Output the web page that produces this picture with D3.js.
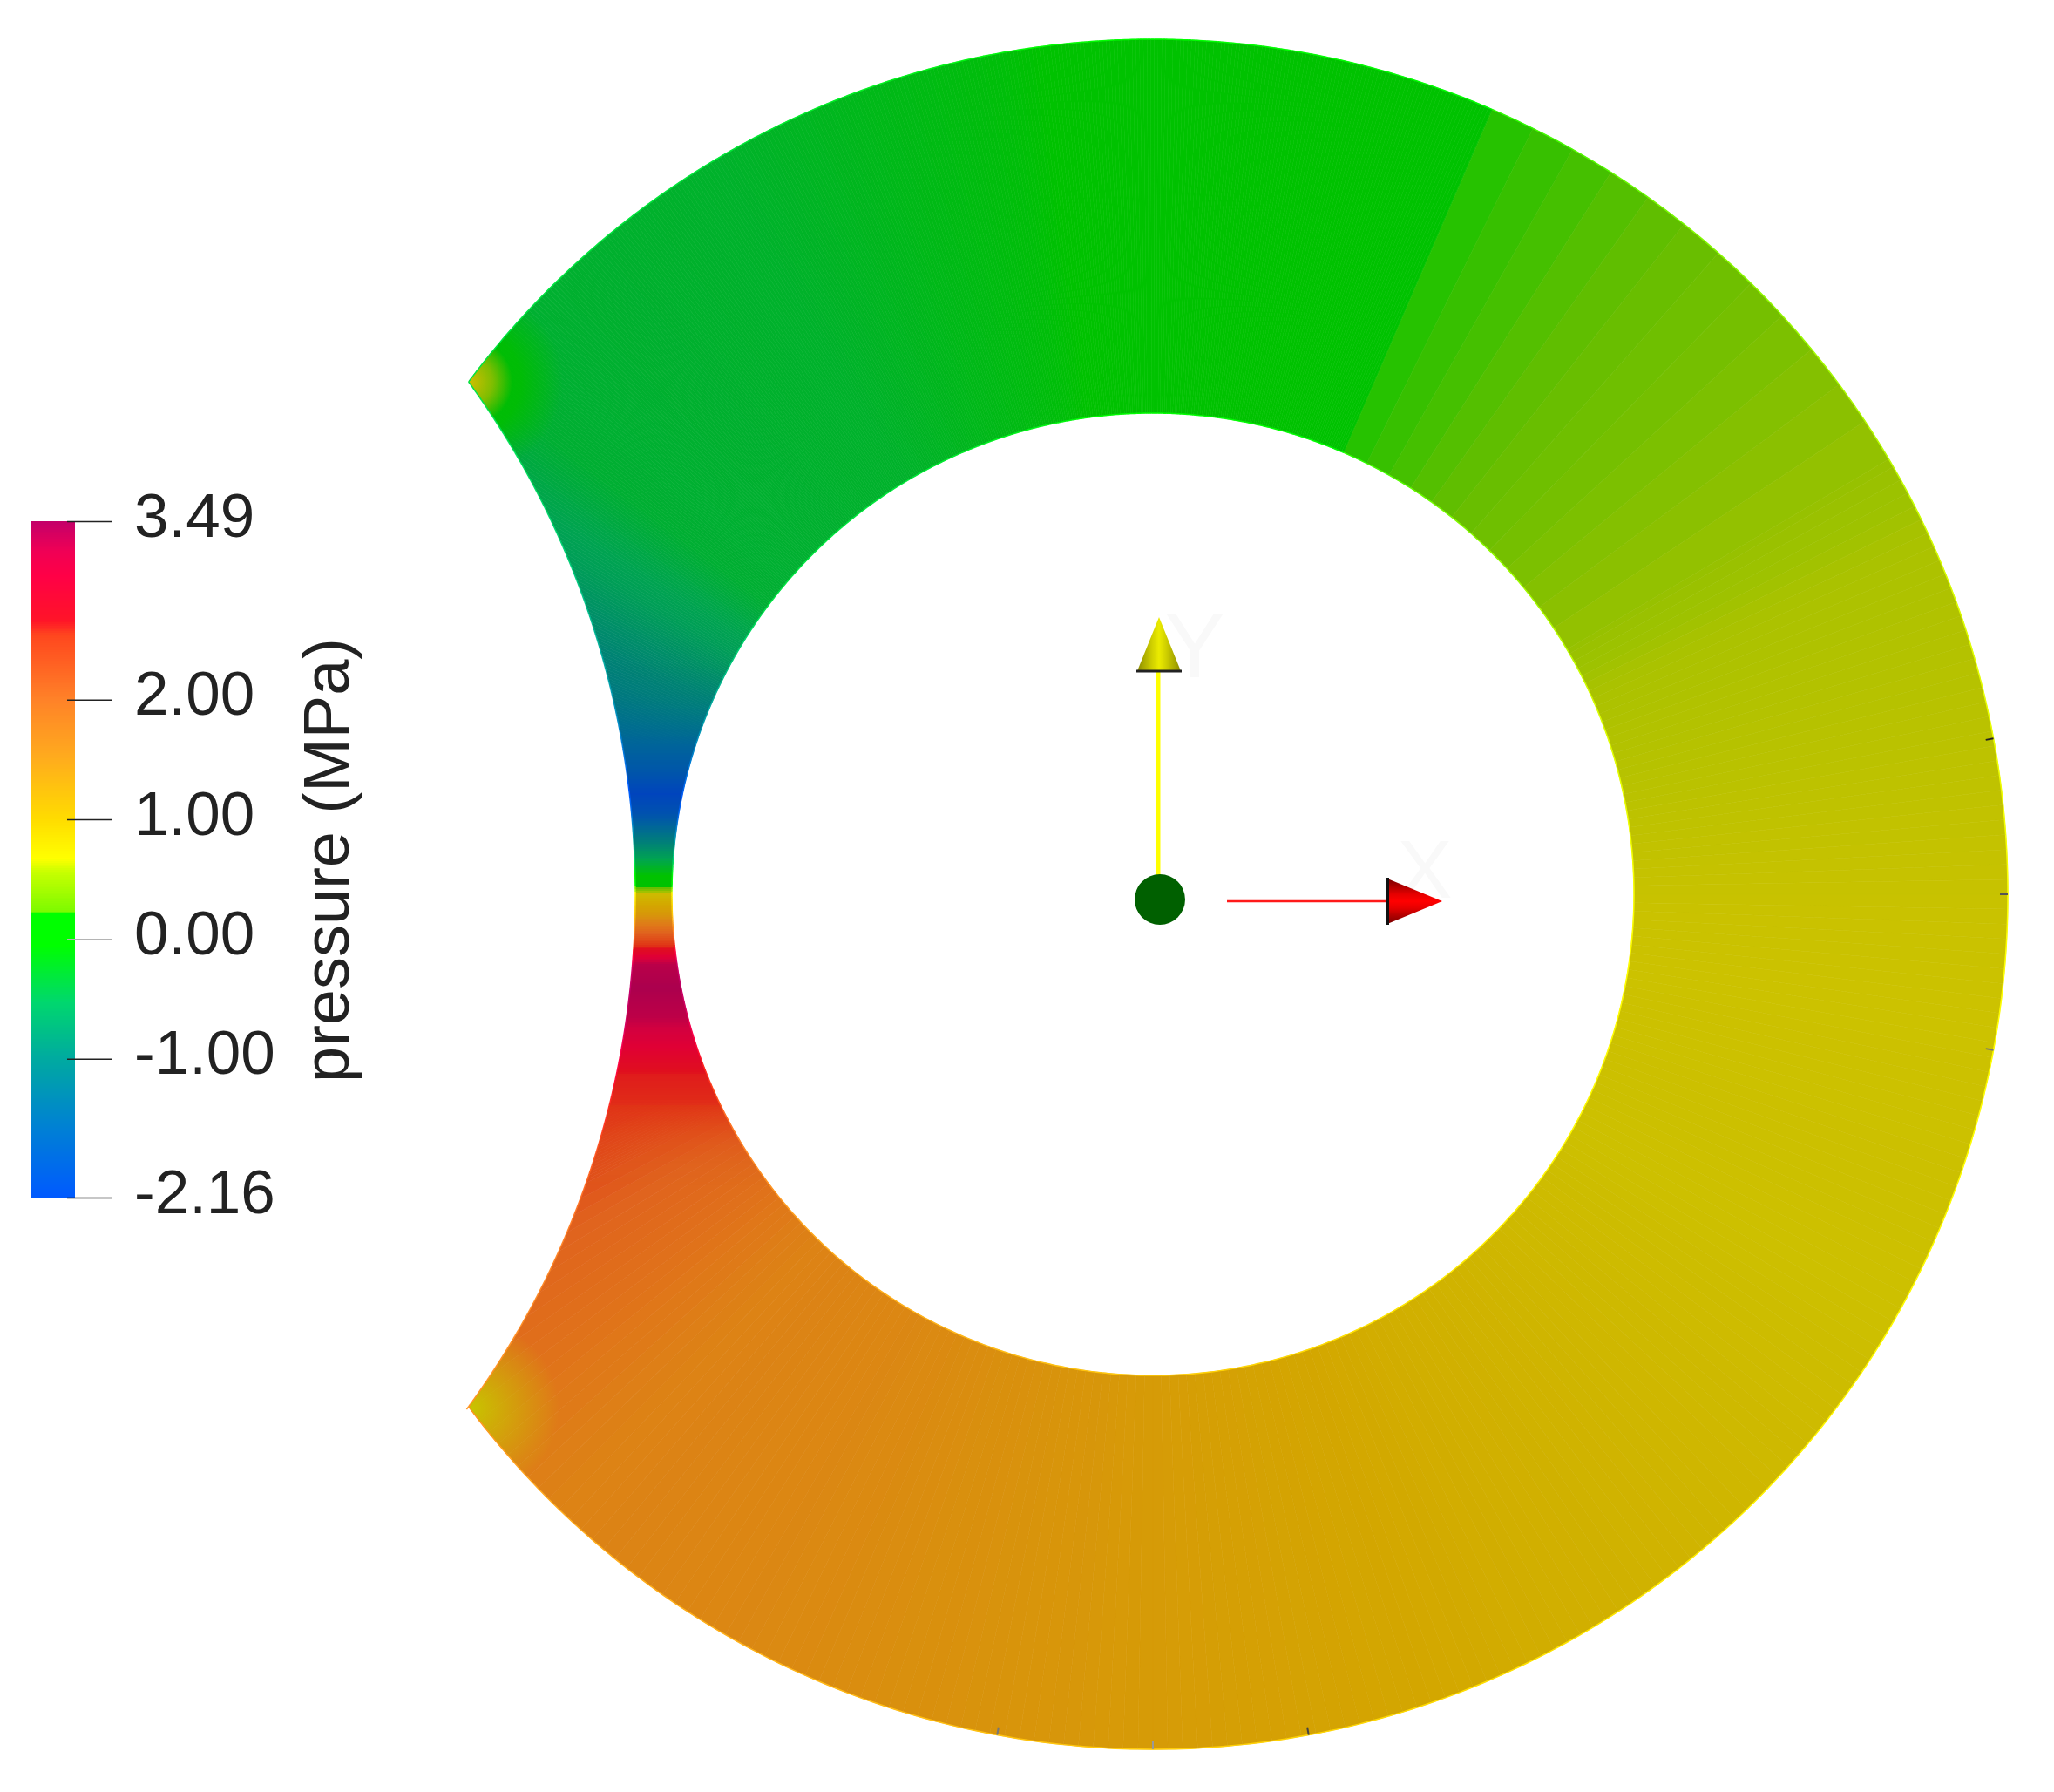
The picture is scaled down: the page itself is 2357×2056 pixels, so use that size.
<!DOCTYPE html>
<html lang="en">
<head>
  <meta charset="UTF-8">
  <title>Pressure field</title>
  <script src="https://d3js.org/d3.v7.min.js"></script>
  <style>
    html, body { margin: 0; padding: 0; background: #fff; }
    svg { display: block; }
    text { font-family: "Liberation Sans", sans-serif; fill: #222; }
    .domain { display: none; }
  </style>
</head>
<body>
  <svg width="2357" height="2056"></svg>
  <script>
    // colour bar: value -> colour, with the hard step above zero
    const barValues = [-2.16, -1.55, -1.0, -0.53, -0.05, 0.21, 0.21, 0.23, 0.56, 0.67, 1.0, 1.53, 2.0, 2.54, 2.66, 3.03, 3.24, 3.49];
    const barColors = ["#005aff", "#0082d2", "#00aaa0", "#00d76e", "#00ff00", "#00ff00", "#28ff00", "#7dfa00", "#c8ff00", "#ffff00", "#ffdc00", "#ffaa1e", "#ff8228", "#ff461e", "#ff1428", "#ff0046", "#f00055", "#c30069"];
    const barTicks = [-2.16, -1, 0, 1, 2, 3.49];

    // pressure around the ring, angle in degrees clockwise from straight up
    const ringAngles = [-89.9, -89.6, -89.2, -88.9, -88.1, -86.1, -83.4, -80.8, -78.6, -76, -71.4, -68.5, -60, -53, -30, -10, -5, 23.3, 24.9, 27.9, 30.9, 33.9, 36.9, 39.9, 45, 65, 90, 120, 150, 180, 210, 225, 240, 243.8, 246.8, 249.8, 252.9, 256.1, 259.4, 262, 263.6, 265.3, 267.6, 269.9, 270.1];
    const ringPressure = [0.78, 0.45, 0.2, 0.1, 0, -0.5, -1.2, -1.9, -2.16, -1.8, -1.35, -1.1, -0.6, -0.35, -0.3, -0.1, 0, 0.15, 0.2116, 0.2168, 0.2209, 0.2254, 0.2285, 0.2564, 0.31, 0.585, 0.66, 0.7, 0.906, 1.17, 1.45, 1.52, 2.0, 2.28, 2.57, 2.62, 3.05, 3.38, 3.49, 3.4, 2.75, 2.1, 1.24, 0.78, 0.78];

    // short marks left on the rim
    const rimTicks = [79.5, 90, 100.5, 169.5, 180, 190.5];
    const rimTickColors = ["#222", "#555", "#777", "#444", "#999", "#777"];

    const cx = 1323, cy = 1026, innerR = 552, outerR = 981;
    const cutR = 999, cutX = 729 - cutR;

    const svg = d3.select("svg");
    const defs = svg.append("defs");

    const colorScale = d3.scaleLinear().domain(barValues).range(barColors);
    const pressureAt = d3.scaleLinear().domain(ringAngles).range(ringPressure);
    const rad = d => d * Math.PI / 180;
    // the field is lit, so it comes out darker than the bar
    const shaded = p => {
      const c = d3.rgb(colorScale(p));
      const kr = Math.min(0.88, 0.8 + 0.2 * (255 - c.g) / 255);
      return d3.rgb(c.r * kr, c.g * 0.76, c.b * 0.74).formatRgb();
    };
    const mid = d => (d[0] + d[1]) / 2;

    // cells: fine near the gap, coarser elements elsewhere
    const edges = d3.range(-89.9, 23.4, 0.25)
      .concat(d3.range(23.4, 60, 3))
      .concat(d3.range(60, 243, 1))
      .concat(d3.range(243, 270.1, 0.25))
      .concat([270.1]);
    const cells = d3.pairs(edges);

    const arc = d3.arc().innerRadius(innerR).outerRadius(outerR);

    defs.append("clipPath").attr("id", "ring")
      .append("path")
      .attr("transform", `translate(${cx},${cy})`)
      .attr("d", arc({ startAngle: 0, endAngle: 2 * Math.PI }));

    const ring = svg.append("g").attr("transform", `translate(${cx},${cy})`);
    ring.selectAll("path.cell")
      .data(cells)
      .join("path")
      .attr("class", "cell")
      .attr("d", d => arc({ startAngle: rad(d[0]), endAngle: rad(d[1]) }))
      .attr("fill", d => shaded(pressureAt(mid(d))))
      .attr("stroke", d => shaded(pressureAt(mid(d))))
      .attr("stroke-width", 0.6);

    const cutPoint = y => [cutX + Math.sqrt(cutR * cutR - (y - cy) * (y - cy)), y];
    const angleOf = p => {
      const a = Math.atan2(p[0] - cx, cy - p[1]) * 180 / Math.PI;
      return a < -89.9 ? a + 360 : a;
    };
    // across the narrow gap the contours run level, so read the ring along its midline
    const midline = y => {
      const inner = cx - Math.sqrt(innerR * innerR - (y - cy) * (y - cy));
      return [(inner + cutPoint(y)[0]) / 2, y];
    };
    const stripFade = d3.scaleLinear().domain([760, 860, 1260, 1360]).range([0, 1, 1, 0]).clamp(true);

    const field = svg.append("g").attr("clip-path", "url(#ring)");
    field.append("g")
      .selectAll("rect")
      .data(d3.range(760, 1360, 2))
      .join("rect")
      .attr("x", 600)
      .attr("y", d => d)
      .attr("width", 350)
      .attr("height", 2)
      .attr("fill", d => shaded(pressureAt(angleOf(midline(d + 1)))))
      .attr("opacity", d => stripFade(d));

    // spots at the two cusps
    const spots = [
      { id: "halo", x: 538, y: 438, r: 108, color: "#00be00", fade: [1, 0.9, 0] },
      { id: "top", x: 538, y: 438, r: 50, color: "#d2be00", fade: [1, 0.6, 0] },
      { id: "low", x: 542, y: 1616, r: 100, color: "#c8c300", fade: [1, 0.45, 0] }
    ];
    spots.forEach(s => {
      const g = defs.append("radialGradient").attr("id", s.id);
      ["0%", "55%", "100%"].forEach((o, i) => {
        g.append("stop").attr("offset", o).attr("stop-color", s.color).attr("stop-opacity", s.fade[i]);
      });
    });
    field.append("g")
      .selectAll("circle")
      .data(spots)
      .join("circle")
      .attr("cx", d => d.x)
      .attr("cy", d => d.y)
      .attr("r", d => d.r)
      .attr("fill", d => `url(#${d.id})`);

    // bright rim on the two ring edges
    [innerR, outerR].forEach(r => {
      const edgeArc = d3.arc().innerRadius(r).outerRadius(r);
      svg.append("g").attr("transform", `translate(${cx},${cy})`)
        .selectAll("path")
        .data(cells)
        .join("path")
        .attr("d", d => edgeArc({ startAngle: rad(d[0]), endAngle: rad(d[1]) }))
        .attr("fill", "none")
        .attr("stroke", d => colorScale(pressureAt(mid(d))))
        .attr("stroke-width", 1.5);
    });

    // the circle that bites into the ring on the left
    svg.append("circle")
      .attr("cx", cutX)
      .attr("cy", cy)
      .attr("r", cutR)
      .attr("fill", "#fff");

    // bright rim along the bite as well
    svg.append("g")
      .selectAll("path")
      .data(d3.pairs(d3.range(438, 1618, 3)))
      .join("path")
      .attr("d", d => d3.line()([cutPoint(d[0]), cutPoint(d[1])]))
      .attr("fill", "none")
      .attr("stroke", d => colorScale(pressureAt(angleOf(cutPoint(mid(d))))))
      .attr("stroke-width", 1.5);

    // rim ticks
    svg.append("g").attr("transform", `translate(${cx},${cy})`)
      .selectAll("line")
      .data(rimTicks)
      .join("line")
      .attr("x1", d => (outerR - 9) * Math.sin(rad(d)))
      .attr("y1", d => -(outerR - 9) * Math.cos(rad(d)))
      .attr("x2", d => outerR * Math.sin(rad(d)))
      .attr("y2", d => -outerR * Math.cos(rad(d)))
      .attr("stroke", (d, i) => rimTickColors[i])
      .attr("stroke-width", 2);

    // colour bar
    const barY = d3.scaleLinear().domain([-2.16, 3.49]).range([1374, 598]);
    svg.append("g")
      .selectAll("rect")
      .data(d3.range(598, 1374, 2))
      .join("rect")
      .attr("x", 35)
      .attr("y", d => d)
      .attr("width", 51)
      .attr("height", 2.5)
      .attr("fill", d => colorScale(barY.invert(d + 1)));

    const barAxis = svg.append("g")
      .attr("transform", "translate(77,0)")
      .call(d3.axisRight(barY)
        .tickValues(barTicks)
        .tickSize(52)
        .tickPadding(25)
        .tickFormat(d3.format(".2f")));
    barAxis.selectAll("line").attr("stroke", d => d === 0 ? "#b4b4b4" : "#222").attr("stroke-width", 1.5);
    barAxis.selectAll("text")
      .attr("font-size", 71)
      .attr("dy", "0.24em")
      .text(d => d.toFixed(2));

    svg.append("text")
      .attr("transform", "translate(400,987) rotate(-90)")
      .attr("text-anchor", "middle")
      .attr("font-size", 74)
      .text("pressure (MPa)");

    // axis letters, almost white in the original
    svg.append("text").attr("x", 1371).attr("y", 777).attr("text-anchor", "middle").attr("font-size", 105).style("fill", "#f9f9f9").text("Y");
    svg.append("text").attr("x", 1635).attr("y", 1030).attr("text-anchor", "middle").attr("font-size", 95).style("fill", "#f9f9f9").text("X");

    // orientation widget
    const yGrad = defs.append("linearGradient").attr("id", "coneY");
    [["0%", "#8c8c00"], ["35%", "#d2d200"], ["50%", "#ebeb00"], ["65%", "#d2d200"], ["100%", "#8c8c00"]]
      .forEach(s => yGrad.append("stop").attr("offset", s[0]).attr("stop-color", s[1]));
    const xGrad = defs.append("linearGradient").attr("id", "coneX").attr("x2", 0).attr("y2", 1);
    [["0%", "#780000"], ["35%", "#e60000"], ["50%", "#ff0000"], ["65%", "#e60000"], ["100%", "#780000"]]
      .forEach(s => xGrad.append("stop").attr("offset", s[0]).attr("stop-color", s[1]));

    const line = d3.line();
    svg.append("line").attr("x1", 1329).attr("x2", 1329).attr("y1", 1004).attr("y2", 770)
      .attr("stroke", "#ffff00").attr("stroke-width", 5);
    svg.append("path").attr("d", line([[1330, 708], [1305, 770], [1355, 770]]) + "Z").attr("fill", "url(#coneY)");
    svg.append("line").attr("x1", 1304).attr("x2", 1356).attr("y1", 770).attr("y2", 770)
      .attr("stroke", "#222").attr("stroke-width", 3);

    svg.append("line").attr("x1", 1408).attr("x2", 1594).attr("y1", 1034).attr("y2", 1034)
      .attr("stroke", "#ff1a1a").attr("stroke-width", 2.5);
    svg.append("path").attr("d", line([[1655, 1034], [1592, 1008], [1592, 1060]]) + "Z").attr("fill", "url(#coneX)");
    svg.append("line").attr("x1", 1592).attr("x2", 1592).attr("y1", 1007).attr("y2", 1061)
      .attr("stroke", "#111").attr("stroke-width", 4);

    svg.append("circle").attr("cx", 1331).attr("cy", 1032).attr("r", 29).attr("fill", "#006000");
  </script>
</body>
</html>
